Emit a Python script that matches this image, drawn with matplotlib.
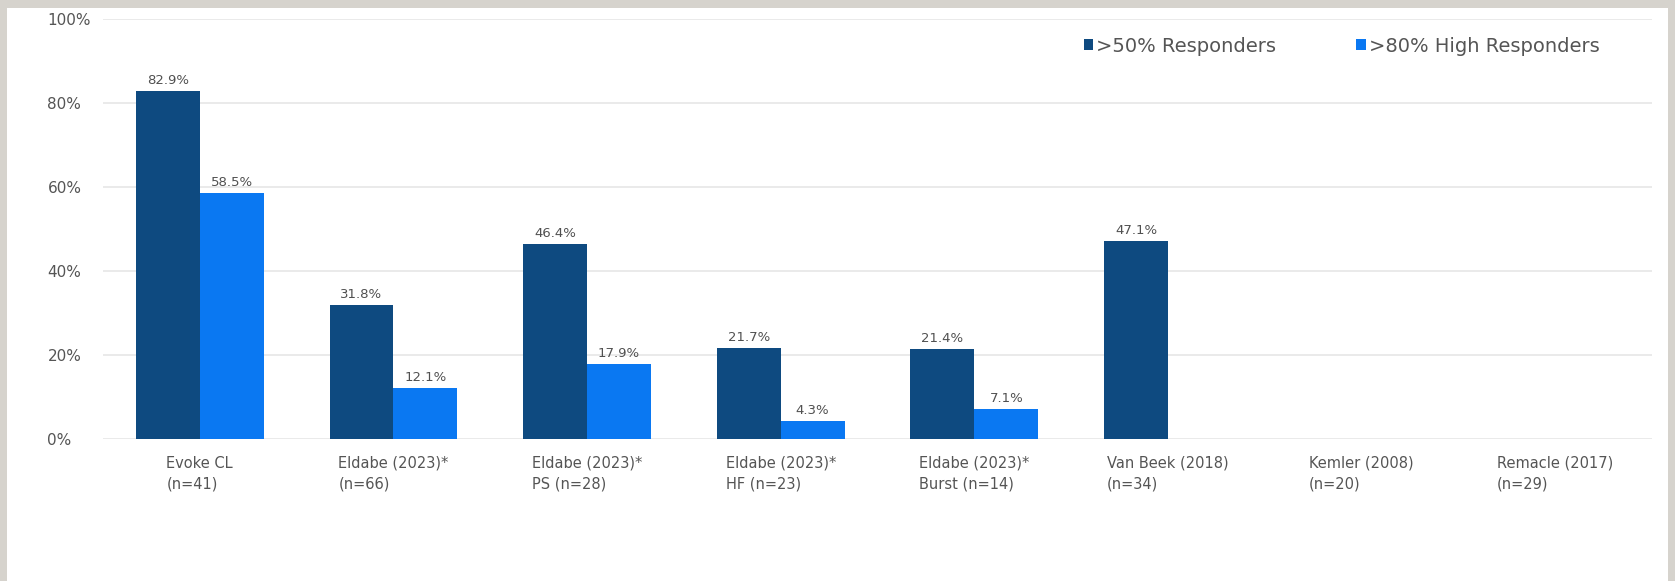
import matplotlib.pyplot as plt
import matplotlib.patches as patches
import numpy as np

categories = ["Evoke CL\n(n=41)", "Eldabe (2023)*\n(n=66)", "Eldabe (2023)*\nPS (n=28)",
              "Eldabe (2023)*\nHF (n=23)", "Eldabe (2023)*\nBurst (n=14)", "Van Beek (2018)\n(n=34)",
              "Kemler (2008)\n(n=20)", "Remacle (2017)\n(n=29)"]
responders = [82.9, 31.8, 46.4, 21.7, 21.4, 47.1, None, None]
high_responders = [58.5, 12.1, 17.9, 4.3, 7.1, None, None, None]
yticks = [0, 20, 40, 60, 80, 100]

dark = "#0e4a80"
light = "#0a78f2"
text_col = "#555555"

plt.rcParams['font.family'] = ['DejaVu Sans']

fig = plt.figure(figsize=(16.75, 5.81), dpi=100)
fig.patch.set_facecolor("#d6d3cd")
# white card
fig.patches.append(patches.Rectangle((7 / 1675, 0), (1668 - 7) / 1675, (581 - 8) / 581,
                                     transform=fig.transFigure, facecolor="white",
                                     edgecolor="none", zorder=-1))

ax = fig.add_axes([103 / 1675, 142 / 581, (1652 - 103) / 1675, (562 - 142) / 581])
ax.set_facecolor("none")

x = np.arange(len(categories))
w = 0.33

def clean(vals):
    return [np.nan if v is None else v for v in vals]

b1 = ax.bar(x - w / 2, clean(responders), w, color=dark, label=">50% Responders", zorder=3)
b2 = ax.bar(x + w / 2, clean(high_responders), w, color=light, label=">80% High Responders", zorder=3)

for bars, vals in ((b1, responders), (b2, high_responders)):
    for rect, v in zip(bars, vals):
        if v is None:
            continue
        ax.annotate(f"{v}%", (rect.get_x() + rect.get_width() / 2, v),
                    xytext=(0, 3), textcoords="offset points", ha="center", va="bottom",
                    fontsize=9.5, color="#505050")

ax.set_xlim(-0.5, 7.5)
ax.set_ylim(0, 100)
ax.set_yticks(yticks)
ax.set_yticklabels([f"{t}%" for t in yticks])
ax.set_xticks(x)
ax.set_xticklabels(categories)
for lbl in ax.get_xticklabels():
    lbl.set_multialignment("left")
    lbl.set_fontsize(10.5)
    lbl.set_color(text_col)
    lbl.set_linespacing(1.5)
for lbl in ax.get_yticklabels():
    lbl.set_fontsize(11)
    lbl.set_color(text_col)
    lbl.set_horizontalalignment("left")

ax.tick_params(axis="both", length=0)
ax.tick_params(axis="x", pad=12)
ax.tick_params(axis="y", pad=40)
ax.grid(axis="y", color="#e6e6e6", linewidth=1.2, zorder=0)
for s in ax.spines.values():
    s.set_visible(False)

ax.legend(loc="upper right", bbox_to_anchor=(0.966, 0.958), ncol=2, frameon=False,
          fontsize=14, handlelength=0.5, handleheight=0.5, handletextpad=0.15,
          columnspacing=4.1, borderpad=0, borderaxespad=0, labelcolor=text_col)

fig.savefig("out.png", dpi=100)
